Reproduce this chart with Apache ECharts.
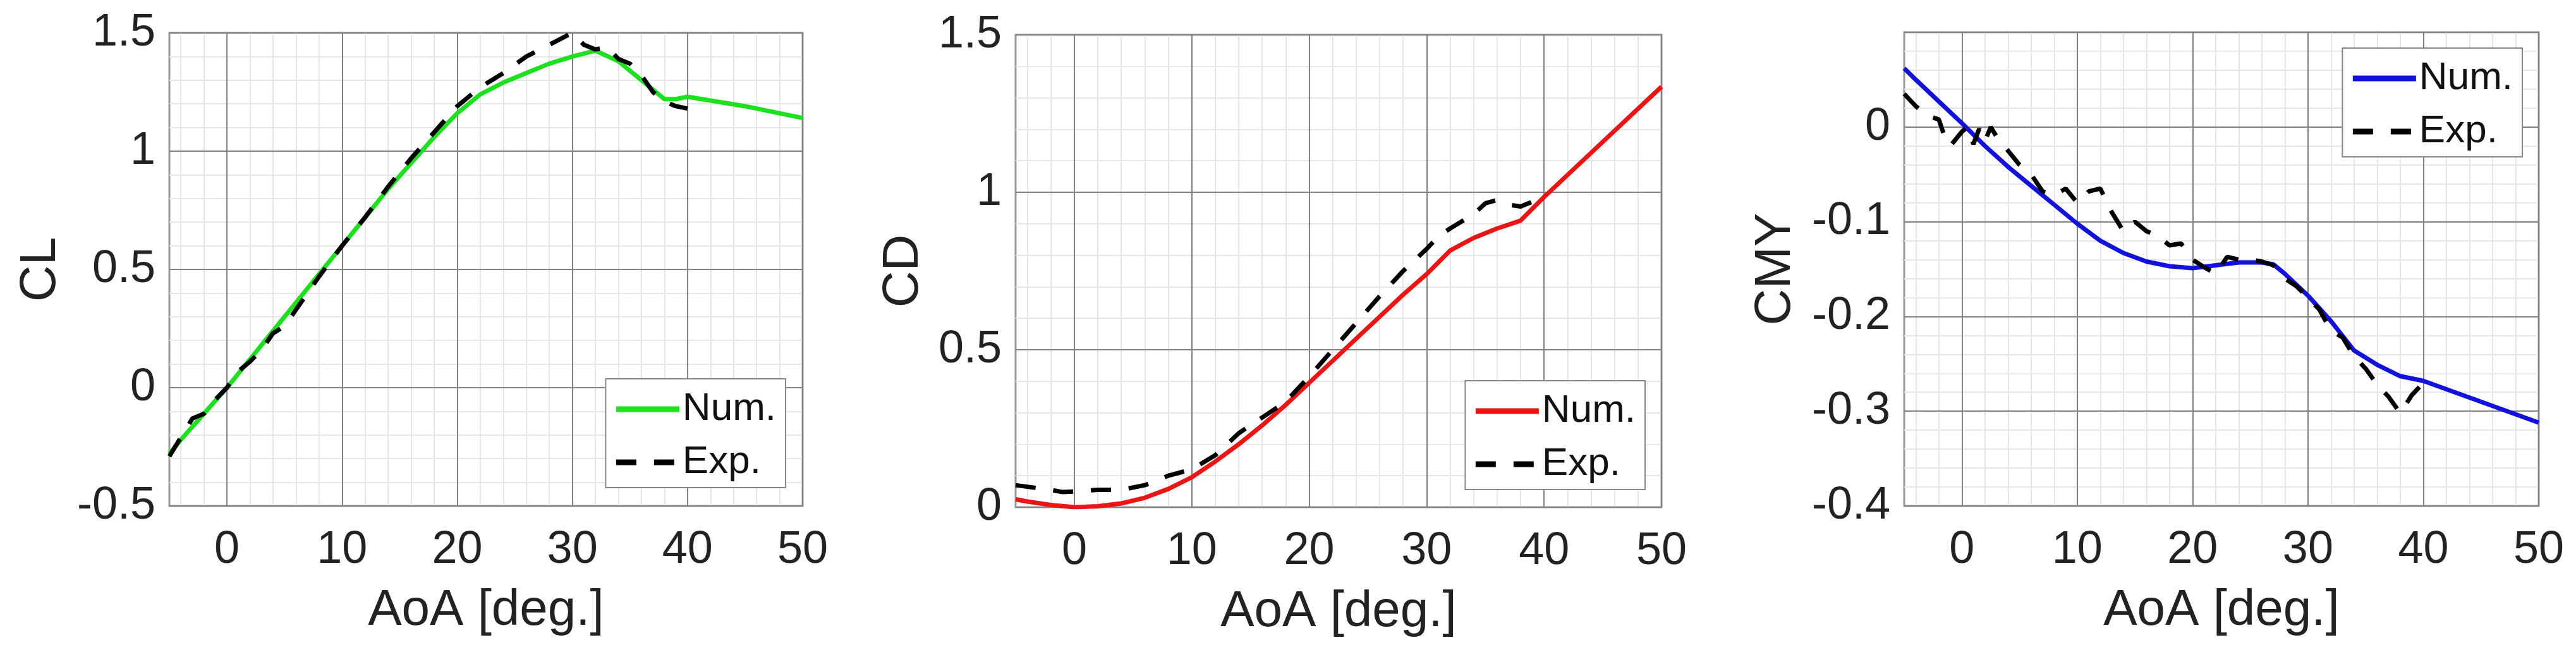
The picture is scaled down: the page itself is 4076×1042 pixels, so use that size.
<!DOCTYPE html>
<html>
<head>
<meta charset="utf-8">
<title>CL / CD / CMY vs AoA</title>
<script src="https://cdn.jsdelivr.net/npm/echarts@6.0.0/dist/echarts.min.js"></script>
<style>
html, body { margin: 0; padding: 0; background: #fff; }
#main { width: 4076px; height: 1042px; }
</style>
</head>
<body>
<div id="main"></div>
<script>
// ---- data ----
const clNumAoa = [-5, -4, -2, 0, 2, 4, 6, 8, 10, 12, 14, 16, 18, 20, 22, 24, 26, 28, 30, 32, 34, 36, 38, 39, 40, 45, 50]
const clNum = [-0.28, -0.22, -0.11, 0.0, 0.12, 0.24, 0.36, 0.48, 0.60, 0.72, 0.84, 0.95, 1.06, 1.16, 1.24, 1.29, 1.33, 1.37, 1.40, 1.425, 1.38, 1.30, 1.22, 1.22, 1.23, 1.19, 1.14]
const clExpAoa = [-5, -4, -3, -2, -1, 0, 1, 2, 3, 4, 5, 6, 8, 10, 12, 14, 16, 18, 20, 22, 24, 26, 28, 30, 31, 32, 33, 34, 35, 36, 37, 38, 39, 40]
const clExp = [-0.29, -0.21, -0.13, -0.11, -0.05, 0.0, 0.07, 0.11, 0.16, 0.23, 0.26, 0.33, 0.47, 0.60, 0.72, 0.85, 0.97, 1.08, 1.19, 1.27, 1.33, 1.40, 1.45, 1.50, 1.45, 1.43, 1.44, 1.39, 1.37, 1.32, 1.25, 1.21, 1.19, 1.18]

const cdNumAoa = [-5, -4, -2, 0, 2, 4, 6, 8, 10, 12, 14, 16, 18, 20, 22, 24, 26, 28, 30, 32, 34, 36, 38, 40, 45, 50]
const cdNum = [0.025, 0.018, 0.007, 0.0, 0.003, 0.012, 0.03, 0.058, 0.095, 0.145, 0.2, 0.26, 0.325, 0.395, 0.465, 0.535, 0.605, 0.675, 0.74, 0.815, 0.855, 0.885, 0.91, 0.985, 1.16, 1.335]
const cdExpAoa = [-5, -4, -2, -1, 0, 2, 4, 6, 8, 10, 12, 14, 16, 18, 20, 22, 24, 26, 28, 30, 31, 32, 34, 35, 36, 37, 38, 39, 40]
const cdExp = [0.07, 0.065, 0.055, 0.048, 0.05, 0.055, 0.055, 0.07, 0.1, 0.12, 0.165, 0.235, 0.285, 0.335, 0.415, 0.5, 0.585, 0.67, 0.75, 0.82, 0.86, 0.885, 0.93, 0.965, 0.975, 0.96, 0.955, 0.97, 0.985]

const cmyNumAoa = [-5, -4, -2, 0, 2, 4, 6, 8, 10, 12, 14, 16, 18, 20, 22, 24, 26, 27, 28, 30, 32, 34, 36, 38, 40, 45, 50]
const cmyNum = [0.062, 0.05, 0.027, 0.004, -0.02, -0.042, -0.062, -0.082, -0.102, -0.12, -0.133, -0.142, -0.147, -0.149, -0.146, -0.143, -0.143, -0.145, -0.155, -0.178, -0.205, -0.236, -0.251, -0.263, -0.268, -0.29, -0.312]
const cmyExpAoa = [-5, -4, -3, -2, -1.5, -1, 0, 0.5, 1, 1.5, 2, 2.5, 3, 4, 5, 6, 7, 8, 9, 10, 11, 12, 13, 14, 15, 16, 17, 18, 19, 20, 21, 22, 23, 24, 25, 26, 27, 28, 29, 30, 31, 32, 33, 34, 35, 36, 37, 38, 39, 40]
const cmyExp = [0.035, 0.022, 0.012, 0.008, -0.01, -0.02, -0.005, 0.0, -0.018, -0.002, -0.015, 0.0, -0.01, -0.025, -0.04, -0.05, -0.068, -0.072, -0.065, -0.08, -0.068, -0.065, -0.09, -0.11, -0.1, -0.11, -0.115, -0.125, -0.123, -0.14, -0.148, -0.155, -0.137, -0.14, -0.14, -0.142, -0.146, -0.16, -0.168, -0.18, -0.193, -0.215, -0.222, -0.242, -0.255, -0.272, -0.285, -0.302, -0.283, -0.27]

// tick labels
const xTicks = [0, 10, 20, 30, 40, 50]
const cmyTicks = [-0.4, -0.3, -0.2, -0.1, 0]

function pairs(xs, ys) {
    return xs.map(function (x, i) { return [x, ys[i]] })
}

// minor vertical grid every 2 deg (skip the major ones)
let minorX = []
for (let v = -4; v < 50; v += 2) {
    if (v % 10 !== 0) minorX.push(v)
}

const font = '"Liberation Sans", Arial, sans-serif'
const txt = '#222'

const grids = [
    { left: 268, top: 52, width: 1002, height: 748 },
    { left: 1607, top: 55, width: 1022, height: 747 },
    { left: 3013, top: 51, width: 1004, height: 749 }
]
const panels = [
    { name: 'CL', nameGap: 163, min: -0.5, max: 1.5, interval: 0.5, labels: null, color: '#1ee01e',
      num: pairs(clNumAoa, clNum), exp: pairs(clExpAoa, clExp),
      legend: { right: 2833, bottom: 271 } },
    { name: 'CD', nameGap: 137, min: 0, max: 1.5, interval: 0.5, labels: null, color: '#ec1414',
      num: pairs(cdNumAoa, cdNum), exp: pairs(cdExpAoa, cdExp),
      legend: { right: 1473, bottom: 268 } },
    { name: 'CMY', nameGap: 163, min: -0.4, max: 0.1, interval: 0.1, labels: cmyTicks, color: '#1212dc',
      num: pairs(cmyNumAoa, cmyNum), exp: pairs(cmyExpAoa, cmyExp),
      legend: { right: 85, top: 76 } }
]

let xAxis = []
let yAxis = []
let series = []
let legend = []

// minor x axes first so they sit under everything
panels.forEach(function (p, i) {
    xAxis.push({
        type: 'value', gridIndex: i, position: 'bottom', min: -5, max: 50, z: 0,
        axisLine: { show: false },
        axisTick: { show: false, customValues: minorX },
        axisLabel: { show: false },
        splitLine: { show: true, lineStyle: { color: '#e6e6e6', width: 2 } }
    })
})

panels.forEach(function (p, i) {
    xAxis.push({
        type: 'value', gridIndex: i, position: 'bottom', min: -5, max: 50, z: 2,
        name: 'AoA [deg.]', nameLocation: 'middle', nameGap: 126,
        nameTextStyle: { fontSize: 80, color: txt, fontFamily: font },
        axisLine: { show: false },
        axisTick: { show: false, customValues: xTicks },
        axisLabel: { customValues: xTicks, fontSize: 72, color: txt, fontFamily: font, margin: 34 },
        splitLine: { show: true, lineStyle: { color: '#828282', width: 2 } }
    })

    let yLabel = { fontSize: 72, color: txt, fontFamily: font, margin: 22 }
    if (p.labels) yLabel.customValues = p.labels
    yAxis.push({
        type: 'value', gridIndex: i, min: p.min, max: p.max, interval: p.interval, z: 1,
        name: p.name, nameLocation: 'middle', nameGap: p.nameGap,
        nameTextStyle: { fontSize: 80, color: txt, fontFamily: font },
        axisLine: { show: false },
        axisTick: { show: false },
        axisLabel: yLabel,
        splitLine: { show: true, lineStyle: { color: '#828282', width: 2 } },
        minorTick: { show: false, splitNumber: 5 },
        minorSplitLine: { show: true, lineStyle: { color: '#e6e6e6', width: 2 } }
    })

    series.push({
        name: p.name + ' Num.', type: 'line', xAxisIndex: 3 + i, yAxisIndex: i,
        data: p.num, symbol: 'none', showSymbol: false, z: 5, color: p.color,
        lineStyle: { color: p.color, width: 7 }
    })
    series.push({
        name: p.name + ' Exp.', type: 'line', xAxisIndex: 3 + i, yAxisIndex: i,
        data: p.exp, symbol: 'none', showSymbol: false, z: 6, color: '#000',
        lineStyle: { color: '#000', width: 7, type: [32, 28] }
    })

    legend.push(Object.assign({
        data: [p.name + ' Num.', p.name + ' Exp.'],
        orient: 'vertical', selectedMode: false, z: 10,
        itemWidth: 100, itemHeight: 12, itemGap: 22,
        padding: [17, 15, 9, 12],
        borderColor: '#888', borderWidth: 2, backgroundColor: '#fff', borderRadius: 0,
        textStyle: { fontSize: 62, color: '#111', fontFamily: font },
        itemStyle: { opacity: 0, borderWidth: 0 },
        lineStyle: { width: 9 },
        formatter: function (n) { return n.split(' ')[1] }
    }, p.legend))
})

let chart = echarts.init(document.querySelector('#main'))
window.onresize = function () {
    chart.resize()
}

let option = {
    backgroundColor: '#fff',
    animation: false,
    grid: grids.map(function (g) {
        return Object.assign({ show: true, borderColor: '#999', borderWidth: 3, containLabel: false, outerBoundsMode: 'none' }, g)
    }),
    legend: legend,
    xAxis: xAxis,
    yAxis: yAxis,
    series: series
}

chart.setOption(option)
</script>
</body>
</html>
